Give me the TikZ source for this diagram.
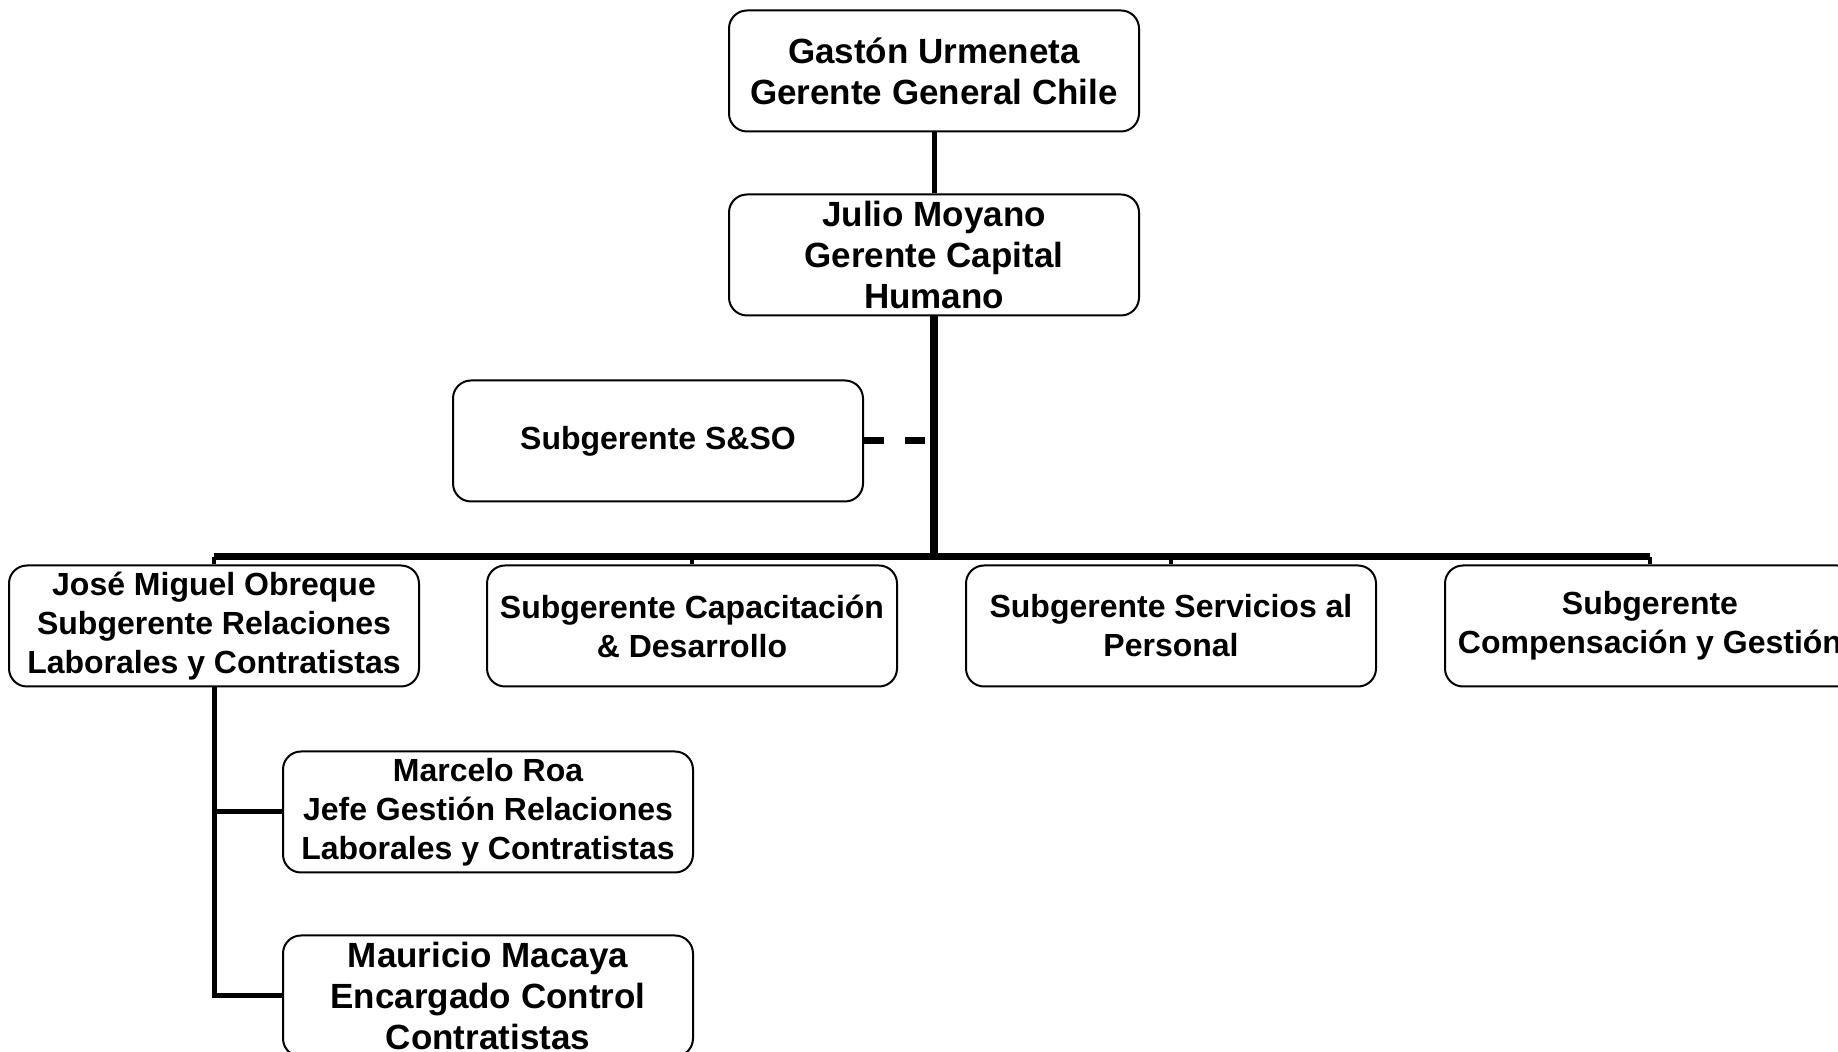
\documentclass[tikz,border=0pt]{standalone}
\usepackage{fontspec}
\setmainfont{Liberation Sans}

\begin{document}
\begin{tikzpicture}[x=0.5pt,y=-0.5pt,
    box/.style={draw, line width=1pt, rounded corners=9pt, minimum width=205pt, minimum height=60.5pt, inner sep=0pt, align=center},
    bigtext/.style={font=\bfseries\fontsize{17.5}{20.5}\selectfont},
    smalltext/.style={font=\bfseries\fontsize{16}{19.5}\selectfont},
    link/.style={line width=2.5pt}]
	% Fix the page size
	\useasboundingbox (0,0) rectangle (1838,1052);
	\clip (0,0) rectangle (1838,1052);

	% Top of the chart
	\node[box, bigtext] (gerente) at (934,71) {Gastón Urmeneta\\Gerente General Chile};
	\node[box, bigtext] (capital) at (934,255) {Julio Moyano\\Gerente Capital\\Humano};
	\node[box, smalltext] (sso) at (658,441) {Subgerente S\&SO};

	% Row of subgerentes
	\node[box, smalltext] (relaciones) at (214,626) {José Miguel Obreque\\Subgerente Relaciones\\Laborales y Contratistas};
	\node[box, smalltext] (capacitacion) at (692,626) {Subgerente Capacitación\\\& Desarrollo};
	\node[box, smalltext] (servicios) at (1171,626) {Subgerente Servicios al\\Personal};
	\node[box, smalltext] (compensacion) at (1650,626) {Subgerente\\Compensación y Gestión};

	% Under Relaciones Laborales
	\node[box, smalltext] (roa) at (488,812) {Marcelo Roa\\Jefe Gestión Relaciones\\Laborales y Contratistas};
	\node[box, bigtext] (macaya) at (488,996) {Mauricio Macaya\\Encargado Control\\Contratistas};

	% Bus line ends
	\coordinate (busleft) at (relaciones.north |- 0,557);
	\coordinate (busright) at (compensacion.north |- 0,557);

	% Connectors
	\draw[link] (gerente.south) -- (capital.north);
	\draw[line width=4pt] (capital.south) -- (capital.south |- busleft);
	\draw[line width=3.5pt, dash pattern=on 10pt off 10.5pt] (sso.east) -- (sso.east -| capital.south);
	\draw[line width=3.5pt] (busleft) -- (busright);
	\draw[line width=2pt] (busleft) -- (relaciones.north);
	\draw[line width=2pt] (capacitacion.north |- busleft) -- (capacitacion.north);
	\draw[line width=2pt] (servicios.north |- busleft) -- (servicios.north);
	\draw[line width=2pt] (busright) -- (compensacion.north);
	\draw[link] (relaciones.south) |- (macaya.west);
	\draw[link] (relaciones.south |- roa.west) -- (roa.west);
\end{tikzpicture}
\end{document}
